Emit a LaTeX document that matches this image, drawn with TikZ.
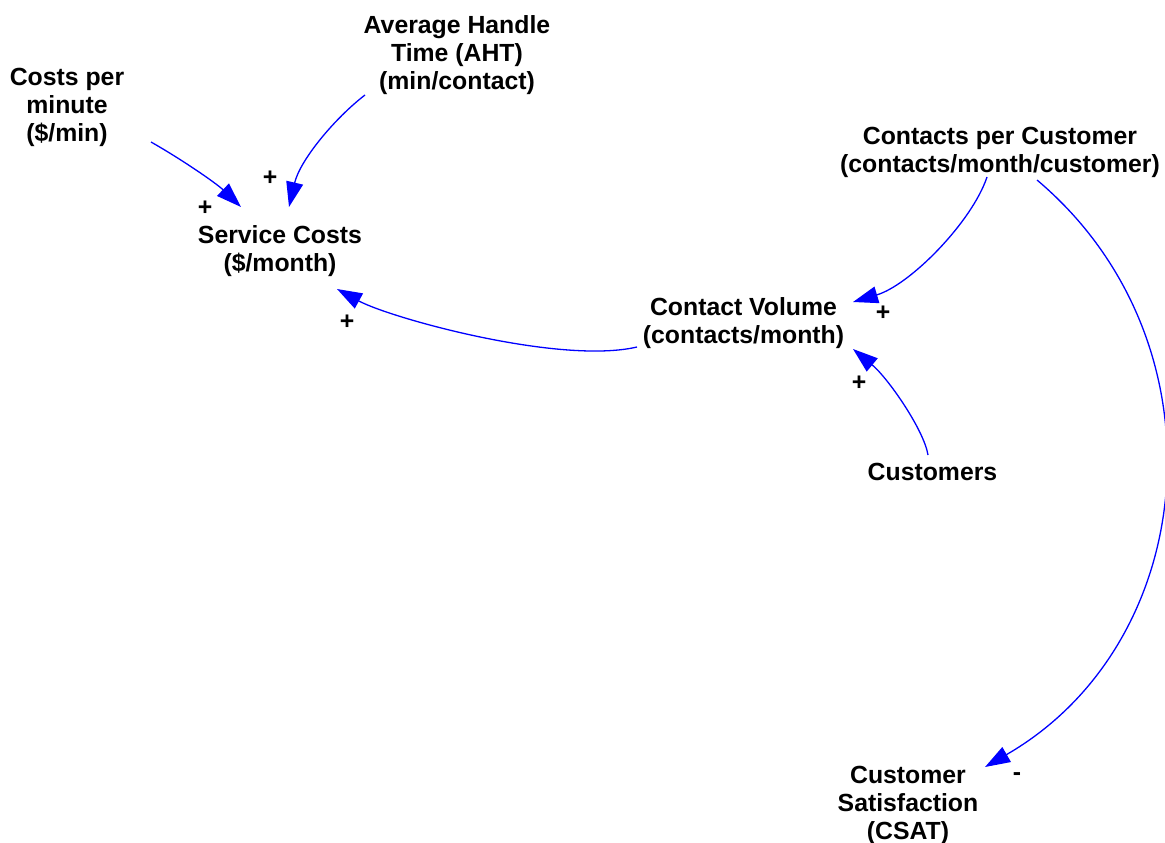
\documentclass[tikz,border=0pt]{standalone}
\usepackage{fontspec}
\setmainfont{Liberation Sans}
\usetikzlibrary{arrows.meta, calc}

\begin{document}
\begin{tikzpicture}
        [x=1pt, y=-1pt,
        var/.style={align=center, inner sep=0pt, font=\fontsize{24.8}{28}\selectfont\bfseries},
        sign/.style={inner sep=0pt, font=\fontsize{24.8}{28}\selectfont\bfseries},
        arr/.style={-{Triangle[length=25pt, width=17pt]}, draw=blue, line width=1.3pt}]
        \useasboundingbox (0,0) rectangle (1165,843);
        % variables
        \node (cpm) at (67,107.7) [var] {Costs per\\minute\\(\$/min)};
        \node (aht) at (457,55) [var] {Average Handle\\Time (AHT)\\(min/contact)};
        \node (sc) at (280,251) [var] {Service Costs\\(\$/month)};
        \node (cpc) at (1000,152.7) [var] {Contacts per Customer\\(contacts/month/customer)};
        \node (cv) at (743.5,322.7) [var] {Contact Volume\\(contacts/month)};
        \node (cu) at (932.5,472) [var] {Customers};
        \node (cs) at (908,805.7) [var] {Customer\\Satisfaction\\(CSAT)};
        % links
        \draw[arr] ($(cpm)+(84,34.3)$) .. controls +(30,17) and +(-25,-24) .. ($(sc)+(-39,-44)$);
        \draw[arr] ($(aht)+(-92,40)$) .. controls +(-30,23) and +(11,-47) .. ($(sc)+(9,-44)$);
        \draw[arr] ($(cv)+(-106.5,24.3)$) .. controls +(-77,18) and +(53,29) .. ($(sc)+(57,38)$);
        \draw[arr] ($(cpc)+(-13,24.3)$) .. controls +(-15,45) and +(57,-17) .. ($(cv)+(109.5,-20.7)$);
        \draw[arr] ($(cu)+(-4.5,-17)$) .. controls +(-4,-25) and +(35,29) .. ($(cv)+(109.5,26.3)$);
        \draw[arr] ($(cpc)+(37,27.3)$) .. controls +(191,161) and +(216.7,-125) .. ($(cs)+(77,-38.7)$);
        % polarities
        \node (sga) at (205,208) [sign] {+};
        \node (sgb) at (270,178) [sign] {+};
        \node (sgc) at (347,322) [sign] {+};
        \node (sgd) at (883,313) [sign] {+};
        \node (sge) at (859,383) [sign] {+};
        \node (sgf) at (1017,777) [sign] {-};
\end{tikzpicture}
\end{document}
